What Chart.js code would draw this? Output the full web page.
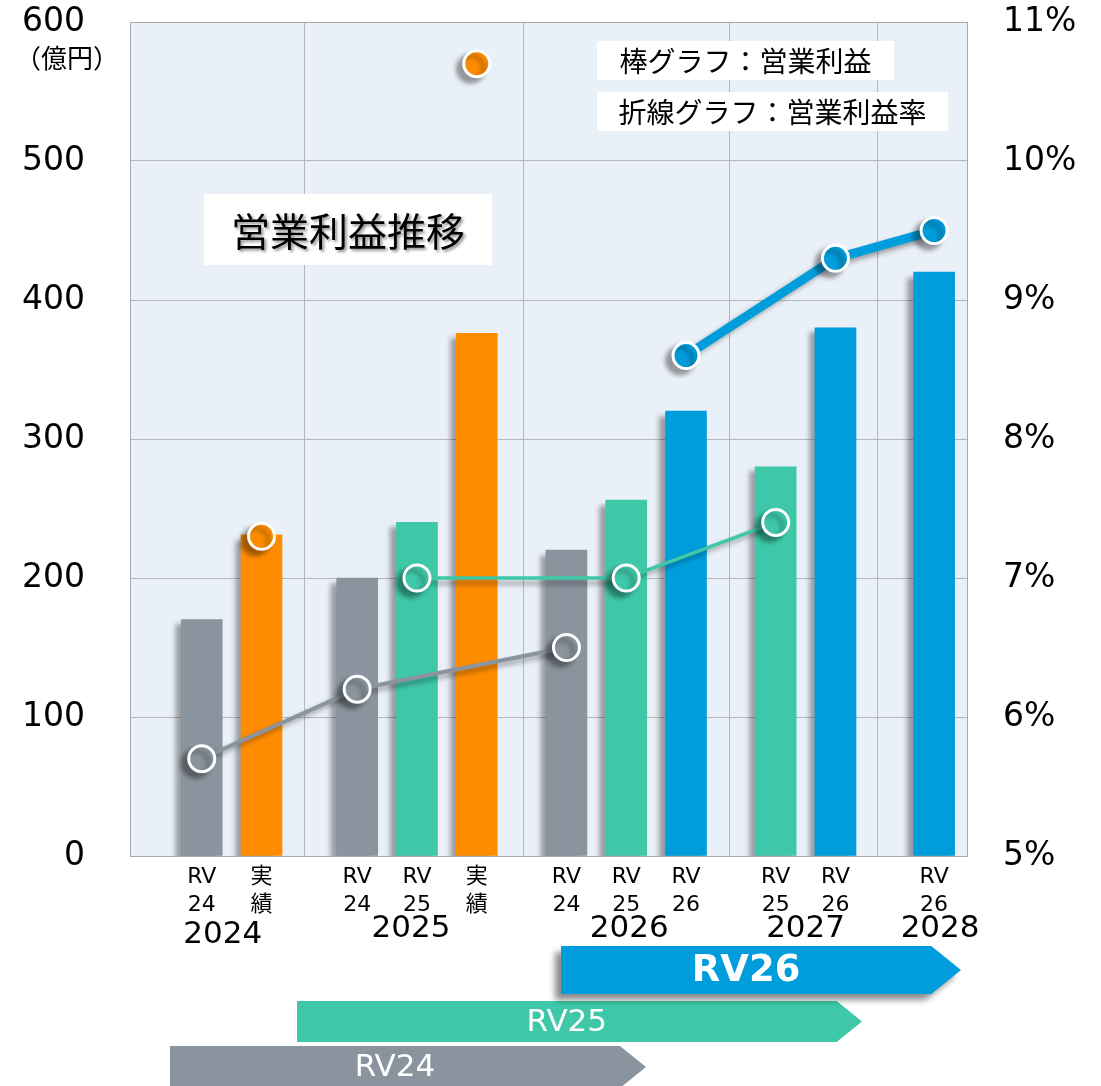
<!DOCTYPE html>
<html lang="ja">
<head>
<meta charset="UTF-8">
<title>営業利益推移</title>
<script src="https://cdn.jsdelivr.net/npm/chart.js"></script>
<style>
  body { margin: 0; background: #fff; }
  canvas { display: block; }
</style>
</head>
<body>
<canvas id="profitChart" width="1101" height="1086"></canvas>
<script>
// bars: one per plan / actual, positioned on a slot scale (0..28)
const barSeries = ['RV24', '実績', 'RV24', 'RV25', '実績', 'RV24', 'RV25', 'RV26', 'RV25', 'RV26', 'RV26'];
const barValues = [170, 231, 200, 240, 376, 220, 256, 320, 280, 380, 420];
const barSlot = [2.4, 4.4, 7.6, 9.6, 11.6, 14.6, 16.6, 18.6, 21.6, 23.6, 26.9];

// operating margin (%) per series, in the same order as that series' bars
const marginRV24 = [5.7, 6.2, 6.5];
const marginRV25 = [7.0, 7.0, 7.4];
const marginRV26 = [8.6, 9.3, 9.5];
const marginActual = [7.3, 10.7];

const years = ['2024', '2025', '2026', '2027', '2028'];
const yearCenter = [3.1, 9.4, 16.7, 22.6, 27.1];
const yearBounds = [5.85, 13.15, 20.05, 25.0];

const colors = { RV24: '#8a949e', RV25: '#3ec8a9', RV26: '#009ddc', '実績': '#ff8c00' };
const FONT = "'DejaVu Sans', 'Noto Sans CJK JP', sans-serif";
const JP = "'Noto Sans CJK JP', sans-serif";

function slotsOf(name) {
    return barSlot.filter((s, i) => barSeries[i] === name);
}
function pointsOf(name, values) {
    const slots = slotsOf(name);
    return values.map((v, i) => ({ x: slots[i], y: v }));
}
function lineSet(name, values, width, showLine) {
    return {
        type: 'line',
        yAxisID: 'y1',
        data: pointsOf(name, values),
        borderColor: colors[name],
        borderWidth: width,
        showLine: showLine,
        pointRadius: 13,
        pointBorderWidth: 3,
        pointBorderColor: '#fff',
        pointBackgroundColor: colors[name],
        order: 0
    };
}

// fixed axis sizes, no extra label padding above/below the plot
function fixY(width) {
    return s => {
        s.width = width;
        s.paddingTop = 0;
        s.paddingBottom = 0;
    };
}

const bgPlugin = {
    id: 'bg',
    beforeDraw(chart) {
        const { ctx, chartArea: a } = chart;
        ctx.save();
        ctx.fillStyle = '#fff';
        ctx.fillRect(0, 0, chart.width, chart.height);
        ctx.fillStyle = '#e9f0f7';
        ctx.fillRect(a.left, a.top, a.right - a.left, a.bottom - a.top);
        ctx.restore();
    },
    beforeDatasetsDraw(chart) {
        const { ctx, chartArea: a } = chart;
        ctx.save();
        ctx.strokeStyle = '#a6a9ad';
        ctx.lineWidth = 1;
        ctx.strokeRect(a.left + 0.5, a.top + 0.5, a.right - a.left, a.bottom - a.top);
        ctx.restore();
    },
    beforeDatasetDraw(chart) {
        const ctx = chart.ctx;
        ctx.save();
        ctx.shadowColor = 'rgba(0,0,0,0.35)';
        ctx.shadowBlur = 5;
        ctx.shadowOffsetX = -6;
        ctx.shadowOffsetY = 5;
    },
    afterDatasetDraw(chart) {
        chart.ctx.restore();
    }
};

function box(ctx, x, y, w, h, text, size) {
    ctx.fillStyle = '#fff';
    ctx.fillRect(x, y, w, h);
    ctx.fillStyle = '#000';
    ctx.font = size + 'px ' + JP;
    ctx.textAlign = 'center';
    ctx.textBaseline = 'middle';
    ctx.fillText(text, x + w / 2, y + h / 2 + 1);
}

function banner(ctx, x0, x1, y, h, color, text, font, shadow) {
    const tip = h * 0.62;
    ctx.save();
    if (shadow) {
        ctx.shadowColor = 'rgba(0,0,0,0.45)';
        ctx.shadowBlur = 6;
        ctx.shadowOffsetX = -6;
        ctx.shadowOffsetY = 6;
    }
    ctx.fillStyle = color;
    ctx.beginPath();
    ctx.moveTo(x0, y);
    ctx.lineTo(x1 - tip, y);
    ctx.lineTo(x1, y + h / 2);
    ctx.lineTo(x1 - tip, y + h);
    ctx.lineTo(x0, y + h);
    ctx.closePath();
    ctx.fill();
    ctx.restore();
    ctx.fillStyle = '#fff';
    ctx.font = font;
    ctx.textAlign = 'center';
    ctx.textBaseline = 'middle';
    ctx.fillText(text, (x0 + x1 - tip) / 2, y + h / 2 + 1);
}

const textPlugin = {
    id: 'texts',
    afterDraw(chart) {
        const ctx = chart.ctx;
        const xs = chart.scales.x;
        ctx.save();

        // unit under the left axis top
        ctx.fillStyle = '#000';
        ctx.font = '26px ' + JP;
        ctx.textAlign = 'center';
        ctx.textBaseline = 'middle';
        ctx.fillText('（億円）', 67, 58);

        // title and legend notes
        ctx.save();
        ctx.fillStyle = '#fff';
        ctx.fillRect(204, 194, 288, 71);
        ctx.shadowColor = 'rgba(0,0,0,0.45)';
        ctx.shadowBlur = 3;
        ctx.shadowOffsetX = 2;
        ctx.shadowOffsetY = 2;
        ctx.fillStyle = '#000';
        ctx.font = '39px ' + JP;
        ctx.fillText('営業利益推移', 348, 231);
        ctx.restore();
        box(ctx, 597, 41, 297, 39, '棒グラフ：営業利益', 28);
        box(ctx, 597, 92, 351, 39, '折線グラフ：営業利益率', 28);

        // bar labels (two lines each)
        ctx.fillStyle = '#000';
        ctx.font = '22px ' + FONT;
        ctx.textAlign = 'center';
        ctx.textBaseline = 'middle';
        barSeries.forEach((s, i) => {
            const px = xs.getPixelForValue(barSlot[i]);
            const lines = s === '実績' ? ['実', '績'] : ['RV', s.slice(2)];
            ctx.fillText(lines[0], px, 877);
            ctx.fillText(lines[1], px, 905);
        });

        // year labels
        ctx.font = '31px ' + FONT;
        years.forEach((y, i) => {
            ctx.fillText(y, xs.getPixelForValue(yearCenter[i]), i === 0 ? 935 : 929);
        });

        // plan period arrows
        banner(ctx, 170, 646, 1046, 42, colors.RV24, 'RV24', '31px ' + FONT, false);
        banner(ctx, 297, 862, 1001, 41, colors.RV25, 'RV25', '31px ' + FONT, false);
        banner(ctx, 561, 961, 946, 48, colors.RV26, 'RV26', 'bold 37px ' + FONT, true);

        ctx.restore();
    }
};

const ctx = document.getElementById('profitChart').getContext('2d');
new Chart(ctx, {
    type: 'bar',
    data: {
        datasets: [
            lineSet('RV24', marginRV24, 4, true),
            lineSet('RV25', marginRV25, 3.5, true),
            lineSet('RV26', marginRV26, 9, true),
            lineSet('実績', marginActual, 0, false),
            {
                type: 'bar',
                yAxisID: 'y',
                data: barSeries.map((s, i) => ({ x: barSlot[i], y: barValues[i] })),
                backgroundColor: barSeries.map(s => colors[s]),
                barThickness: 41,
                order: 1
            }
        ]
    },
    options: {
        responsive: false,
        animation: false,
        layout: { padding: { top: 22, left: 0, right: 0, bottom: 0 } },
        plugins: {
            legend: { display: false },
            tooltip: { enabled: false }
        },
        scales: {
            x: {
                type: 'linear',
                min: 0,
                max: 28,
                offset: false,
                ticks: { display: false },
                grid: { color: '#b4b8bd', drawTicks: false, offset: false },
                border: { display: false },
                afterBuildTicks: s => { s.ticks = yearBounds.map(v => ({ value: v })); },
                afterFit: s => { s.height = 230; }
            },
            y: {
                position: 'left',
                min: 0,
                max: 600,
                ticks: { stepSize: 100, padding: 45, color: '#000', font: { size: 33, family: FONT } },
                grid: { color: '#b4b8bd', drawTicks: false },
                border: { display: false },
                afterFit: fixY(130)
            },
            y1: {
                position: 'right',
                min: 5,
                max: 11,
                ticks: { stepSize: 1, padding: 36, color: '#000', font: { size: 33, family: FONT }, callback: v => v + '%' },
                grid: { display: false, drawTicks: false },
                border: { display: false },
                afterFit: fixY(134)
            }
        }
    },
    plugins: [bgPlugin, textPlugin]
});
</script>
</body>
</html>
